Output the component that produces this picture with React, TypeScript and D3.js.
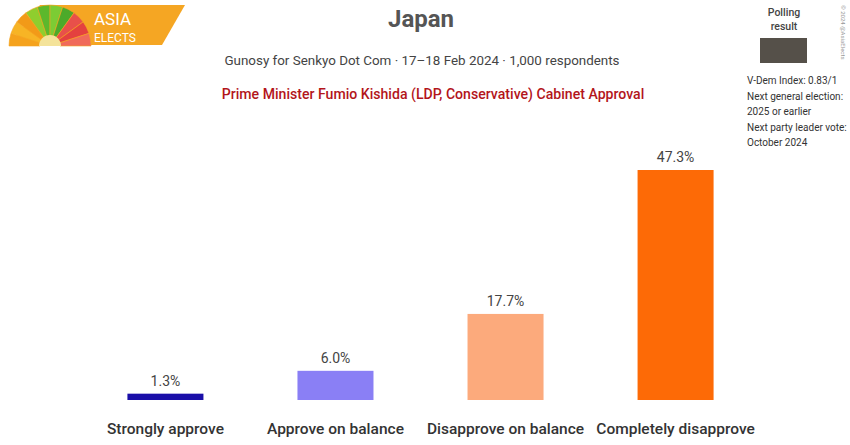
import React from "react";
import * as d3 from "d3";

// poll values
const categories = ["Strongly approve", "Approve on balance", "Disapprove on balance", "Completely disapprove"];
const values = [1.3, 6.0, 17.7, 47.3];
const valueLabels = ["1.3%", "6.0%", "17.7%", "47.3%"];
const barColors = ["#1a0fa8", "#8a7ff5", "#fcaa7c", "#fd6a06"];

// logo fan colours, left to right
const fanColors = ["#f5a21c", "#f7b425", "#f29a18", "#8fce2e", "#5cb82c", "#7ccc34", "#4caa2a", "#e8504a", "#e4413f", "#f06a5a"];

const sideNotes = ["V-Dem Index: 0.83/1", "Next general election:", "2025 or earlier", "Next party leader vote:", "October 2024"];

const font = "Roboto, 'DejaVu Sans', sans-serif";

function App() {
  const width = 850, height = 445;
  const baseline = 400;

  const x = d3.scaleBand<string>()
    .domain(categories)
    .range([81, 760])
    .paddingInner(0.553)
    .paddingOuter(0.273);

  const y = d3.scaleLinear().domain([0, 47.3]).range([baseline, 170]);

  // fan in the logo
  const fanArc = d3.arc<any>().innerRadius(10).outerRadius(41);
  const fanPie = d3.pie<string>().value(1).sort(null).startAngle(-Math.PI / 2).endAngle(Math.PI / 2);

  return (
    <svg width={width} height={height} style={{ position: "absolute", left: 0, top: 0, background: "#fff" }} fontFamily={font}>
      {/* logo */}
      <g>
        <path d="M40,5 L185,5 L162,45 L10,45 Z" fill="#f5a623" />
        <g transform="translate(50,46)">
          {fanPie(fanColors).map((s, i) => (
            <path key={i} d={fanArc(s) || ""} fill={s.data} stroke="#f5a623" strokeWidth={0.6} />
          ))}
          <path d={d3.arc<any>()({ innerRadius: 0, outerRadius: 11, startAngle: -Math.PI / 2, endAngle: Math.PI / 2 }) || ""} fill="#f4e39a" />
        </g>
        <text x={94} y={25} fill="#fff" fontSize={17}>ASIA</text>
        <text x={94} y={42} fill="#fff" fontSize={12}>ELECTS</text>
      </g>

      {/* titles */}
      <text x={421} y={27} textAnchor="middle" fontSize={24} fontWeight="bold" fill="#555">Japan</text>
      <text x={422} y={65} textAnchor="middle" fontSize={13.4} fill="#444">Gunosy for Senkyo Dot Com · 17–18 Feb 2024 · 1,000 respondents</text>
      <text x={433} y={99} textAnchor="middle" fontSize={14.1} fontWeight={500} fill="#b3151b">Prime Minister Fumio Kishida (LDP, Conservative) Cabinet Approval</text>

      {/* side legend */}
      <text x={784} y={16} textAnchor="middle" fontSize={10.5} fill="#444" fontWeight={500}>Polling</text>
      <text x={784} y={30} textAnchor="middle" fontSize={10.5} fill="#444" fontWeight={500}>result</text>
      <rect x={760} y={38} width={47} height={25} fill="#555049" />
      {sideNotes.map((t, i) => (
        <text key={t} x={747} y={[84, 100, 115, 131, 146][i]} fontSize={10} fill="#333">{t}</text>
      ))}
      <text transform="translate(841,5) rotate(90)" fontSize={6} fill="#999">© 2024 @AsiaElects</text>

      {/* bars */}
      {categories.map((c, i) => (
        <g key={c}>
          <rect x={x(c)} y={y(values[i])} width={x.bandwidth()} height={baseline - y(values[i])} fill={barColors[i]} />
          <text x={(x(c) || 0) + x.bandwidth() / 2} y={y(values[i]) - 8} textAnchor="middle" fontSize={14} fill="#444">{valueLabels[i]}</text>
          <text x={(x(c) || 0) + x.bandwidth() / 2} y={434} textAnchor="middle" fontSize={15.5} fontWeight={500} fill="#333">{c}</text>
        </g>
      ))}
    </svg>
  );
}

export default App;
